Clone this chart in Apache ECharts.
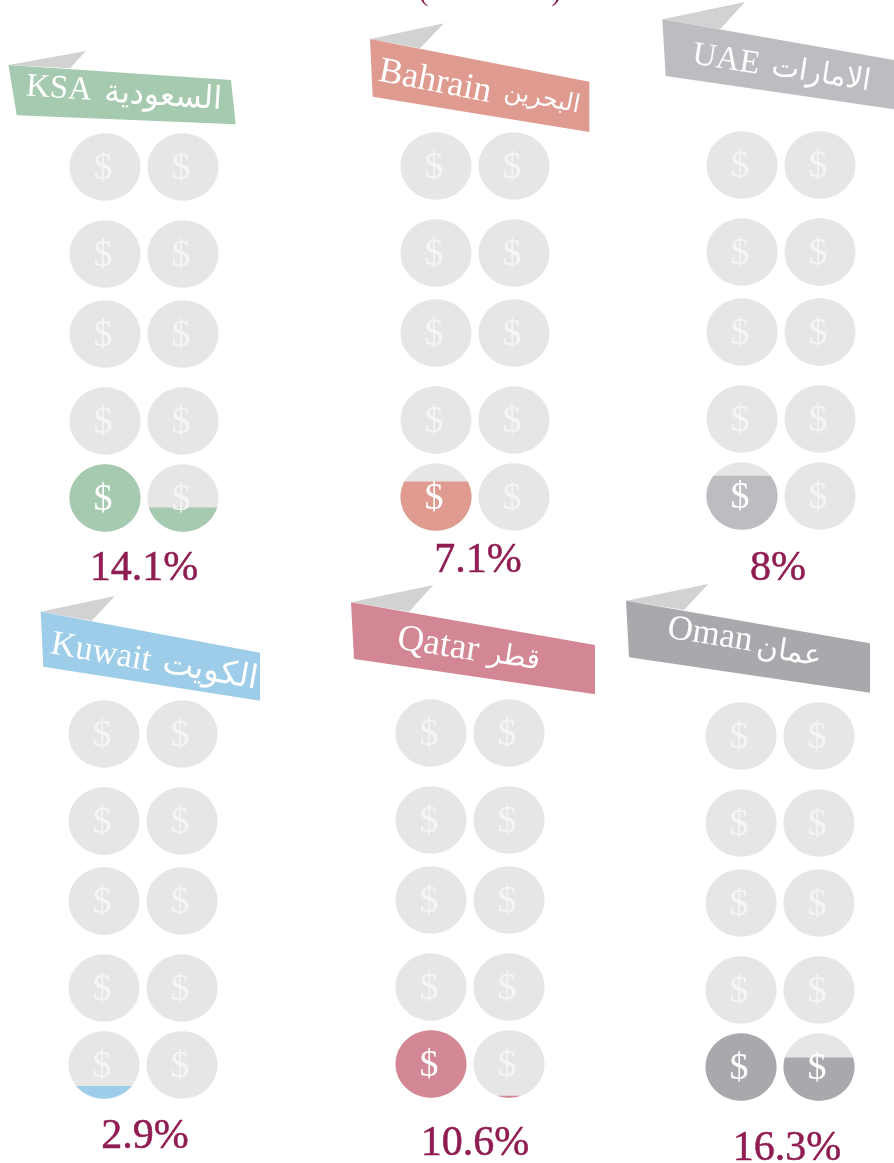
<!DOCTYPE html>
<html>
<head>
<meta charset="utf-8">
<style>
    html, body { margin: 0; padding: 0; background: #fff; }
    #chart { width: 894px; height: 1163px; }
</style>
<script src="https://cdn.jsdelivr.net/npm/echarts@6/dist/echarts.min.js"></script>
</head>
<body>
<div id="chart"></div>
<script>
// 数据
const countries = ['KSA', 'Bahrain', 'UAE', 'Kuwait', 'Qatar', 'Oman']
const arabicNames = ['السعودية', 'البحرين', 'الامارات', 'الكويت', 'قطر', 'عمان']
const percentLabels = ['14.1%', '7.1%', '8%', '2.9%', '10.6%', '16.3%']
// 每枚硬币 = 10%, 填充高度按图读取
const coinFill = [1.36, 0.73, 0.80, 0.19, 1.03, 1.64]
const colors = ['#a5cab0', '#e09b90', '#bbbdc0', '#9dcde8', '#d38794', '#a7a9ac']

// 行的位置 (单位 px, 从第一行算起)
const rowStops = [0, 87, 167, 254, 331]
const coinCols = [0, 1]
const RX = 35.5
const RY = 33.7
const TEXT_RED = '#8f1d52'
const LATIN = '"Liberation Serif", serif'
const ARABIC = '"DejaVu Sans", sans-serif'

// 布局
const panels = [
    {
        left: 105, top: 167,
        ribbon: [[8.5, 65], [231, 80], [235.7, 124.3], [16.7, 115.3]],
        flap: [[8.5, 65], [86, 51], [70, 68.3]],
        rot: 3.8, latin: [59, 89], latinSize: 33, arabic: [163, 97], arabicSize: 31.5, percent: [144, 569]
    },
    {
        left: 436, top: 166,
        ribbon: [[370, 39], [589.3, 81.7], [589.3, 132], [372.7, 96.7]],
        flap: [[370, 39], [444, 23.3], [420, 48.3]],
        rot: 11, latin: [435, 82], latinSize: 36, arabic: [542, 99], arabicSize: 24.5, percent: [478, 561]
    },
    {
        left: 742, top: 165,
        ribbon: [[662.3, 19.3], [894, 60], [894, 109.3], [665.7, 76]],
        flap: [[662.3, 19.3], [745, 2], [720, 29.3]],
        rot: 9, latin: [726, 60], latinSize: 33, arabic: [821, 75], arabicSize: 29.5, percent: [778, 569]
    },
    {
        left: 104, top: 734,
        ribbon: [[40.7, 611.7], [260, 652.7], [260, 700.7], [43.3, 666.7]],
        flap: [[40.7, 611.7], [115, 596], [91.7, 620.7]],
        rot: 10, latin: [101, 653], latinSize: 34.5, arabic: [210, 672], arabicSize: 33, percent: [145, 1137]
    },
    {
        left: 431, top: 733,
        ribbon: [[351, 602.3], [595, 645], [595, 694.3], [354, 659]],
        flap: [[351, 602.3], [433.3, 585], [409, 611.7]],
        rot: 9, latin: [438, 645], latinSize: 37, arabic: [514, 658], arabicSize: 28, percent: [475, 1144]
    },
    {
        left: 741, top: 736,
        ribbon: [[626, 600.7], [870, 643.3], [870, 692.7], [629, 657.3]],
        flap: [[626, 600.7], [708.3, 584], [684, 610]],
        rot: 9, latin: [710, 635], latinSize: 35, arabic: [789, 653], arabicSize: 29.5, percent: [787, 1149]
    }
]

// 椭圆硬币在 level (0~1) 以下部分的轮廓
function coinPoints(cx, cy, level) {
    const pts = []
    const yTop = RY - 2 * RY * level
    const a0 = Math.asin(Math.max(-1, Math.min(1, yTop / RY)))
    const n = 60
    for (let i = 0; i <= n; i++) {
        const a = a0 + (Math.PI - 2 * a0) * i / n
        pts.push([cx + RX * Math.cos(a), cy + RY * Math.sin(a)])
    }
    return pts
}

// 每枚硬币的数据 [列, 行位置, 填充比例]
function buildCoins(fill) {
    const data = []
    let rest = fill
    // 从最下一行开始, 从左向右填充
    for (let r = rowStops.length - 1; r >= 0; r--) {
        coinCols.forEach(c => {
            const level = Math.max(0, Math.min(1, rest))
            rest -= level
            data.push([c, rowStops[r], level])
        })
    }
    return data
}

const grids = [], xAxes = [], yAxes = [], series = [], graphics = []

panels.forEach((p, i) => {
    grids.push({ left: p.left, top: p.top, width: 78, height: rowStops[rowStops.length - 1] })
    xAxes.push({ gridIndex: i, type: 'value', min: 0, max: 1, show: false })
    yAxes.push({ gridIndex: i, type: 'value', min: 0, max: rowStops[rowStops.length - 1], inverse: true, show: false })

    series.push({
        type: 'custom',
        xAxisIndex: i,
        yAxisIndex: i,
        silent: true,
        animation: false,
        data: buildCoins(coinFill[i]),
        renderItem: function (params, api) {
            const c = api.coord([api.value(0), api.value(1)])
            const level = api.value(2)
            const children = [{
                type: 'polygon',
                shape: { points: coinPoints(c[0], c[1], 1) },
                style: { fill: '#e6e6e6' }
            }]
            if (level > 0) {
                children.push({
                    type: 'polygon',
                    shape: { points: coinPoints(c[0], c[1], level) },
                    style: { fill: colors[i] }
                })
            }
            children.push({
                type: 'text',
                x: c[0] - 2,
                y: c[1] + 2,
                style: {
                    text: '$',
                    font: '38px ' + LATIN,
                    fill: level >= 0.5 ? '#ffffff' : '#f5f5f5',
                    align: 'center',
                    verticalAlign: 'middle'
                }
            })
            return { type: 'group', children: children }
        }
    })

    // 飘带
    const rad = -p.rot * Math.PI / 180
    graphics.push({ type: 'polygon', silent: true, shape: { points: p.flap }, style: { fill: '#d1d3d2' } })
    graphics.push({ type: 'polygon', silent: true, shape: { points: p.ribbon }, style: { fill: colors[i] } })
    graphics.push({
        type: 'text', silent: true,
        x: p.latin[0], y: p.latin[1], rotation: rad,
        style: { text: countries[i], font: p.latinSize + 'px ' + LATIN, fill: '#fff', align: 'center', verticalAlign: 'middle' }
    })
    graphics.push({
        type: 'text', silent: true,
        x: p.arabic[0], y: p.arabic[1], rotation: rad,
        style: { text: arabicNames[i], font: p.arabicSize + 'px ' + ARABIC, fill: '#fff', align: 'center', verticalAlign: 'middle' }
    })
    graphics.push({
        type: 'text', silent: true,
        x: p.percent[0], y: p.percent[1],
        style: {
            text: percentLabels[i], font: '42px ' + LATIN, fill: TEXT_RED,
            stroke: TEXT_RED, lineWidth: 0.5, align: 'center', verticalAlign: 'middle'
        }
    })
})

// 顶部被裁切的标题
graphics.push({
    type: 'text', silent: true,
    x: 490, y: -8,
    style: { text: '(2011/2013)', font: '29px ' + LATIN, fill: TEXT_RED, align: 'center', verticalAlign: 'middle' }
})

const cs = echarts.init(document.getElementById('chart'), null, { renderer: 'canvas' })
cs.setOption({
    animation: false,
    backgroundColor: '#ffffff',
    tooltip: { show: false },
    grid: grids,
    xAxis: xAxes,
    yAxis: yAxes,
    series: series,
    graphic: { elements: graphics }
})
</script>
</body>
</html>
